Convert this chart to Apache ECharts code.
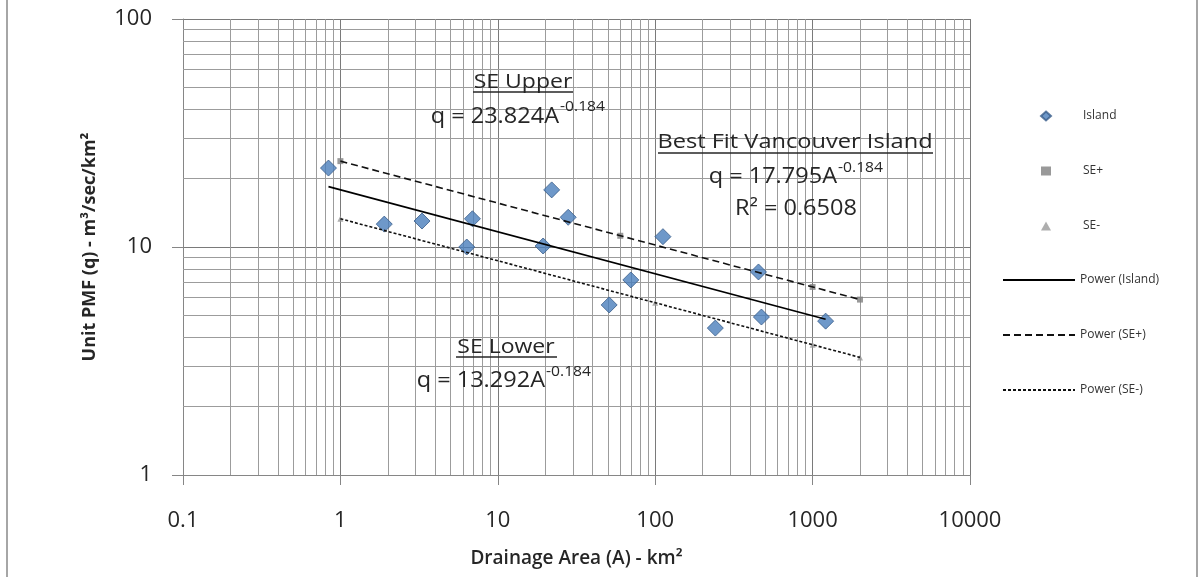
<!DOCTYPE html>
<html>
<head>
<meta charset="utf-8">
<script src="https://cdn.jsdelivr.net/npm/echarts@6/dist/echarts.min.js"></script>
<style>
html,body{margin:0;padding:0;background:#fff;}
#chart{width:1199px;height:577px;}
</style>
</head>
<body>
<div id="chart"></div>
<script>
// ---- data ----
const islandA = [0.84, 1.9, 3.3, 6.35, 6.9, 19.4, 22, 28, 51, 70, 112, 241, 453, 473, 1210];
const islandQ = [22.2, 12.6, 13.0, 10.0, 13.3, 10.1, 17.8, 13.5, 5.57, 7.17, 11.1, 4.41, 7.77, 4.93, 4.73];
const sePlusA = [1, 60, 1000, 2000];
const sePlusQ = [23.8, 11.2, 6.68, 5.88];
const seMinusA = [1, 100, 1000, 2000];
const seMinusQ = [13.3, 5.70, 3.73, 3.28];
// trendline end points
const fitIslandA = [0.84, 1210];
const fitIslandQ = [18.4, 4.82];
const fitPlusA = [1, 2000];
const fitPlusQ = [23.8, 5.88];
const fitMinusA = [1, 2000];
const fitMinusQ = [13.3, 3.28];
// axis tick labels
const xTickLabels = ['0.1', '1', '10', '100', '1000', '10000'];
const yTickLabels = ['1', '10', '100'];
const xDecades = [0.1, 1, 10, 100, 1000];
const yDecades = [1, 10];
const minorMultiples = [2, 3, 4, 5, 6, 7, 8, 9];

const pairs = (a, b) => a.map((v, i) => [v, b[i]]);
const xMinor = [];
xDecades.forEach(d => minorMultiples.forEach(m => xMinor.push(+(d * m).toPrecision(6))));
const yMinor = [];
yDecades.forEach(d => minorMultiples.forEach(m => yMinor.push(+(d * m).toPrecision(6))));

const FONT = 'Open Sans';
const TXT = '#262626';
const chart = echarts.init(document.getElementById('chart'), null, {renderer: 'canvas'});

function txt(x, y, s, size, align, sx) {
  return {type: 'text', x: x, y: y, scaleX: sx || 1.15, z: 50,
    style: {text: s, fontFamily: FONT, fontSize: size, fill: TXT, align: align || 'center', verticalAlign: 'middle'}};
}
function uline(x1, x2, y) {
  return {type: 'line', z: 50, shape: {x1: x1, y1: y, x2: x2, y2: y}, style: {stroke: TXT, lineWidth: 1.5}};
}

const option = {
  animation: false,
  backgroundColor: '#ffffff',
  grid: {left: 183, top: 19, width: 787, height: 456, containLabel: false},
  xAxis: {
    type: 'log', logBase: 10, min: 0.1, max: 10000,
    name: 'Drainage Area (A) - km²', nameLocation: 'middle', nameGap: 74,
    nameTextStyle: {fontFamily: FONT, fontSize: 19, fontWeight: 600, color: TXT},
    axisLine: {show: true, onZero: false, lineStyle: {color: '#868686', width: 1}},
    axisTick: {show: true, length: 10, lineStyle: {color: '#868686'}},
    axisLabel: {margin: 35, fontFamily: FONT, fontSize: 22, color: TXT,
      formatter: (v, i) => xTickLabels[i]},
    splitLine: {show: true, lineStyle: {color: '#7a7a7a', width: 1}}
  },
  yAxis: {
    type: 'log', logBase: 10, min: 1, max: 100,
    name: 'Unit PMF (q) - m³/sec/km²', nameLocation: 'middle', nameGap: 84,
    nameTextStyle: {fontFamily: FONT, fontSize: 18, fontWeight: 'bold', color: TXT},
    axisLine: {show: true, onZero: false, lineStyle: {color: '#868686', width: 1}},
    axisTick: {show: true, length: 11, lineStyle: {color: '#868686'}},
    axisLabel: {margin: 31, fontFamily: FONT, fontSize: 22, color: TXT,
      formatter: (v, i) => yTickLabels[i]},
    splitLine: {show: true, lineStyle: {color: '#7a7a7a', width: 1}}
  },
  legend: [
    {
      orient: 'vertical', left: 1035, top: 105, itemWidth: 10, itemHeight: 9, itemGap: 43,
      textStyle: {fontFamily: FONT, fontSize: 12, color: '#333', padding: [0, 0, 0, 27]},
      data: ['Island', 'SE+', 'SE-']
    },
    {
      orient: 'vertical', left: 997, top: 269, itemWidth: 72, itemHeight: 8, itemGap: 43,
      textStyle: {fontFamily: FONT, fontSize: 12, color: '#333'},
      itemStyle: {opacity: 0, borderWidth: 0},
      data: ['Power (Island)', 'Power (SE+)', 'Power (SE-)']
    }
  ],
  series: [
    {
      name: 'grid', type: 'line', data: [], z: 1, silent: true,
      markLine: {
        silent: true, symbol: ['none', 'none'], animation: false,
        label: {show: false},
        lineStyle: {color: '#9c9c9c', width: 1, type: 'solid'},
        emphasis: {disabled: true},
        data: xMinor.map(v => ({xAxis: v})).concat(yMinor.map(v => ({yAxis: v})))
      }
    },
    {
      name: 'Island', type: 'scatter', z: 5, symbol: 'diamond', symbolSize: 16,
      itemStyle: {color: '#4A7EBB', borderColor: '#385D8A', borderWidth: 1},
      data: pairs(islandA, islandQ)
    },
    {
      name: 'SE+', type: 'scatter', z: 6, symbol: 'rect', symbolSize: 6,
      itemStyle: {color: '#7f7f7f'},
      data: pairs(sePlusA, sePlusQ)
    },
    {
      name: 'SE-', type: 'scatter', z: 6, symbol: 'triangle', symbolSize: 6,
      itemStyle: {color: '#9a9a9a'},
      data: pairs(seMinusA, seMinusQ)
    },
    {
      name: 'Power (Island)', type: 'line', z: 7, symbol: 'none',
      itemStyle: {color: '#000'},
      lineStyle: {color: '#000', width: 1.6, type: 'solid'},
      data: pairs(fitIslandA, fitIslandQ)
    },
    {
      name: 'Power (SE+)', type: 'line', z: 7, symbol: 'none',
      itemStyle: {color: '#000'},
      lineStyle: {color: '#111', width: 1.6, type: [7, 4]},
      data: pairs(fitPlusA, fitPlusQ)
    },
    {
      name: 'Power (SE-)', type: 'line', z: 7, symbol: 'none',
      itemStyle: {color: '#000'},
      lineStyle: {color: '#111', width: 1.6, type: [3, 2]},
      data: pairs(fitMinusA, fitMinusQ)
    }
  ],
  graphic: [
    {type: 'rect', z: 100, shape: {x: 7, y: -5, width: 1190, height: 590},
      style: {fill: 'none', stroke: '#a6a6a6', lineWidth: 2}},
    txt(523, 82, 'SE Upper', 20, 'center'),
    uline(473, 573, 92),
    txt(559, 117, 'q = 23.824A', 21, 'right', 1.12),
    txt(560, 107, '-0.184', 14, 'left', 1.12),
    txt(795, 142, 'Best Fit Vancouver Island', 20, 'center', 1.18),
    uline(658, 933, 153),
    txt(837, 177, 'q = 17.795A', 21, 'right', 1.12),
    txt(838, 168, '-0.184', 14, 'left', 1.12),
    txt(796, 209, 'R² = 0.6508', 21, 'center', 1.12),
    txt(506, 347, 'SE Lower', 20, 'center'),
    uline(456, 557, 357),
    txt(545, 381, 'q = 13.292A', 21, 'right', 1.12),
    txt(546, 372, '-0.184', 14, 'left', 1.12)
  ]
};
chart.setOption(option);
</script>
</body>
</html>
